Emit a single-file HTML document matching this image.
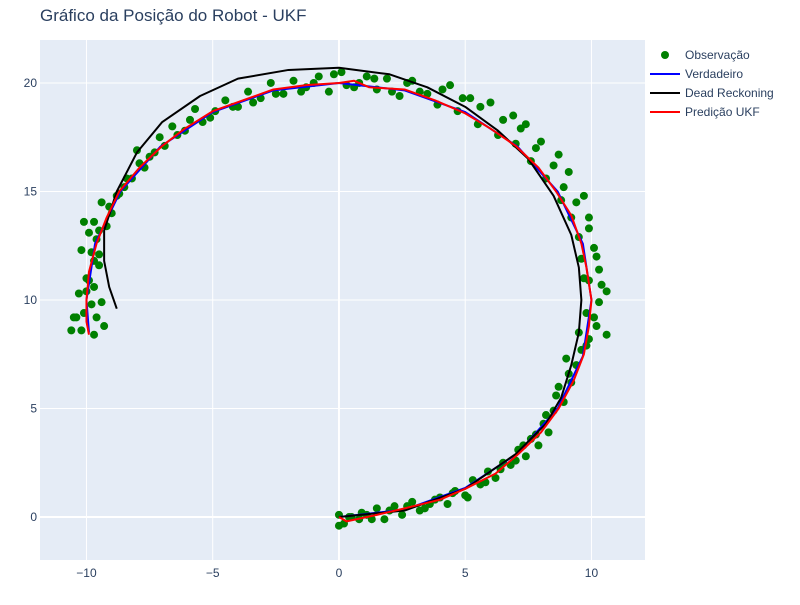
<!DOCTYPE html>
<html><head><meta charset="utf-8"><style>
body{margin:0;background:#fff;font-family:"Liberation Sans",Arial,sans-serif}
svg text{font-family:"Liberation Sans",Arial,sans-serif}
</style></head><body>
<svg id="chart" width="800" height="600">
<text x="40" y="21" font-size="17" fill="#2a3f5f">Gráfico da Posição do Robot - UKF</text>
<rect x="40" y="40" width="605" height="520" fill="#e5ecf6"/>
<g id="grid"></g><g id="series"></g><g id="ticks"></g>
<g font-size="12" fill="#2a3f5f">
<g><circle cx="665" cy="55" r="4" fill="#008000"/><text x="685" y="59">Observação</text></g>
<g><line x1="650" y1="74" x2="680" y2="74" stroke="#0000ff" stroke-width="2"/><text x="685" y="78">Verdadeiro</text></g>
<g><line x1="650" y1="93" x2="680" y2="93" stroke="#000" stroke-width="2"/><text x="685" y="97">Dead Reckoning</text></g>
<g><line x1="650" y1="112" x2="680" y2="112" stroke="#ff0000" stroke-width="2"/><text x="685" y="116">Predição UKF</text></g>
</g>
</svg>
<script>
const xTicks=[-10,-5,0,5,10];
const yTicks=[0,5,10,15,20];
const trueX=[0,2.6,5,7.07,8.66,9.66,10,9.66,8.66,7.07,5,2.59,0,-2.59,-5,-7.07,-8.66,-9.66,-10,-9.9];
const trueY=[0,0.34,1.34,2.93,5,7.41,10,12.59,15,17.07,18.66,19.66,20,19.66,18.66,17.07,15,12.59,10,8.5];
const drX=[0,2.6,5,7,8.2,8.8,9.2,9.5,9.6,9.5,9.2,8.5,7.5,6.3,5,3.5,2,0,-2,-4,-5.5,-7,-8,-8.8,-9.3,-9.3,-9.1,-8.8];
const drY=[0,0.3,1.3,2.9,4.3,5.5,7,8.5,10,11.5,13,14.8,16.5,17.8,18.9,19.8,20.4,20.7,20.6,20.2,19.4,18.2,16.8,15,13.2,11.8,10.6,9.6];
const ukfX=[0,0.3,1.5,2.6,4,5,6.2,7.1,8,8.7,9.3,9.7,9.9,10,9.8,9.6,9.2,8.6,7.9,7,6,5,3.8,2.6,1.2,0.6,0,-1.3,-2.6,-3.8,-5,-6.1,-7,-7.9,-8.7,-9.2,-9.6,-9.9,-10,-10,-9.9];
const ukfY=[0,-0.2,0.1,0.4,0.8,1.3,2,2.9,3.9,5,6.3,7.5,8.8,10,11.5,12.6,13.9,15,16.1,17.1,17.9,18.6,19.2,19.7,19.8,20.1,20,19.9,19.7,19.2,18.7,17.9,17.1,16.1,15,13.8,12.6,11.3,10,9,8.4];
const obsX=[0,0,0.2,0.5,0.8,1.1,1.5,1.8,2.2,2.5,2.9,3.2,3.6,4,4.3,4.6,5,5.3,5.6,5.9,6.2,6.5,6.8,7.1,7.4,7.6,7.9,8.1,8.3,8.5,8.9,8.7,9.2,9.4,9,9.8,9.5,10.2,10.6,9.8,10.3,10.6,9.9,10.3,9.6,10.1,9.5,9.9,9.2,9.4,8.8,8.9,8.2,8.5,7.6,7.8,7,7.2,6.3,6.5,5.5,5.6,4.7,4.9,3.9,4.1,3.2,2.9,2.4,1.9,1.5,1.1,0.6,0.1,-0.4,-0.8,-1.3,-1.8,-2.2,-2.7,-3.1,-3.6,-4,-4.5,-4.9,-5.4,-5.7,-6.1,-6.6,-6.9,-7.1,-7.5,-7.7,-8,-8.2,-8.5,-8.8,-9,-9.4,-9.2,-9.7,-9.6,-10.1,-9.8,-10.2,-9.5,-10,-9.7,-10.3,-9.8,-10.1,-9.6,-10.4,-10.2,-9.7,-9.3,-10.5,
0.4,0.9,1.3,2,2.7,3.4,3.8,4.5,5.1,5.8,6.4,7,7.3,7.8,8.2,8.6,9.1,9.6,9.9,10.1,10.4,9.7,10.2,9.9,9.7,9.1,8.7,8.0,7.4,6.9,6.0,5.2,4.4,3.5,2.7,2.1,1.4,0.8,0.3,-0.2,-1,-1.5,-2.5,-3.4,-4.2,-5.1,-5.9,-6.4,-7.3,-7.9,-8.4,-8.7,-9.1,-9.5,-9.9,-9.7,-10,-9.4,-9.9,-10.6,-9.5];
const obsY=[0.1,-0.4,-0.3,0,-0.1,0.1,0.4,-0.1,0.5,0.1,0.7,0.3,0.6,0.9,0.6,1.2,1,1.7,1.5,2.1,1.8,2.5,2.4,3.1,2.8,3.6,3.3,4.3,3.9,4.9,5.3,6,6.2,7,7.3,7.9,8.5,8.8,8.4,9.4,9.9,10.4,10.9,11.4,11.9,12.4,12.9,13.3,13.8,14.5,14.6,15.2,15.6,16.2,16.4,17,17.2,17.9,17.6,18.3,18.1,18.9,18.7,19.3,19,19.7,19.6,20.1,19.4,20.2,19.7,20.3,19.8,20.5,19.6,20.3,19.8,20.1,19.5,20,19.3,19.6,18.9,19.2,18.7,18.2,18.8,17.8,18,17.1,17.5,16.6,16.1,16.9,15.6,15.2,14.8,14,14.5,13.4,13.6,12.8,13.6,12.2,12.3,11.6,11,10.6,10.3,9.8,9.4,9.2,9.2,8.6,8.4,8.8,9.2,
0,0.2,-0.1,0.3,0.5,0.4,0.8,1.1,0.9,1.6,2.2,2.6,3.3,3.8,4.7,5.6,6.6,7.7,8.2,9.2,10.7,11,12,13.8,14.8,15.9,16.7,17.3,18.1,18.5,19.1,19.3,19.9,19.5,20.0,19.6,20.2,20.0,19.9,20.4,20.0,19.6,19.5,19.1,18.9,18.4,18.3,17.6,16.8,16.3,15.6,14.9,14.3,13.2,13.1,11.8,10.4,9.9,10.9,8.6,12.1];
const xMin=-11.84,xMax=12.12,yMin=-1.98,yMax=21.98;
const L=40,R=645,T=40,B=560;
const sx=v=>L+(v-xMin)/(xMax-xMin)*(R-L);
const sy=v=>B-(v-yMin)/(yMax-yMin)*(B-T);
const NS="http://www.w3.org/2000/svg";
const grid=document.getElementById('grid'),ticks=document.getElementById('ticks'),ser=document.getElementById('series');
function mk(tag,attrs,parent){const e=document.createElementNS(NS,tag);for(const k in attrs)e.setAttribute(k,attrs[k]);parent.appendChild(e);return e;}
xTicks.forEach(v=>{
 const l=mk('line',{x1:sx(v),x2:sx(v),y1:T,y2:B,stroke:'#fff','stroke-width':v===0?2:1},grid);
 
 
 const t=mk('text',{x:sx(v),y:B+17,'font-size':12,fill:'#2a3f5f','text-anchor':'middle'},ticks);t.textContent=String(v).replace('-','\u2212');
 
 
});
yTicks.forEach(v=>{
 const l=mk('line',{x1:L,x2:R,y1:sy(v),y2:sy(v),stroke:'#fff','stroke-width':v===0?2:1},grid);
 
 
 const t=mk('text',{x:L-3,y:sy(v)+4,'font-size':12,fill:'#2a3f5f','text-anchor':'end'},ticks);t.textContent=v;
 
 
});
obsX.forEach((v,i)=>{
 const c=mk('circle',{cx:sx(v),cy:sy(obsY[i]),r:4,fill:'#008000'},ser);
 
 
});
function line(xs,ys,col,name){
 const p=mk('polyline',{points:xs.map((v,i)=>sx(v)+','+sy(ys[i])).join(' '),fill:'none',stroke:col,'stroke-width':2,'stroke-linejoin':'round'},ser);
 
 
}
line(trueX,trueY,'#0000ff','verdadeiro-line');
line(drX,drY,'#000000','dead-reckoning-line');
line(ukfX,ukfY,'#ff0000','predicao-ukf-line');
</script>
</body></html>
